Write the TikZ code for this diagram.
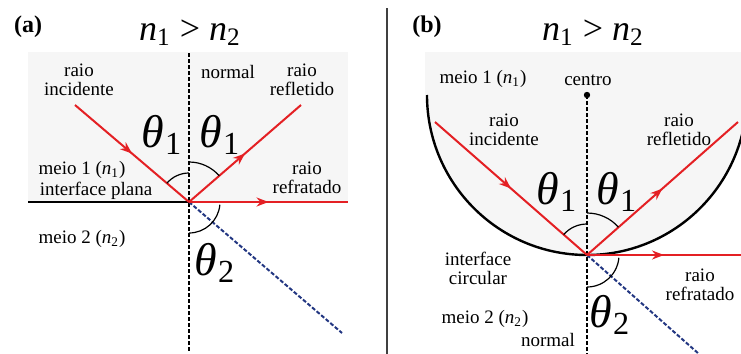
\documentclass[tikz,border=0pt]{standalone}
\usepackage{fontspec}
\setmainfont{Liberation Serif}
\newfontfamily\figfont{Liberation Serif}
\usetikzlibrary{arrows.meta, decorations.markings, positioning}
\definecolor{rayred}{RGB}{228,32,36}
\definecolor{rayblue}{RGB}{35,55,130}
\definecolor{bggray}{RGB}{246,246,246}
\newcommand{\nsub}[1]{{\itshape n}\textsubscript{#1}}
\newcommand{\thsub}[1]{{\itshape θ}\kern0.02em\textsubscript{#1}}

\begin{document}
\begin{tikzpicture}[x=0.5pt, y=-0.5pt,
  lbl/.style={align=center, inner sep=0pt, font=\figfont\fontsize{9.5}{9.5}\selectfont},
  ang/.style={inner sep=0pt, font=\figfont\fontsize{23}{23}\selectfont},
  ttl/.style={inner sep=0pt, font=\figfont\fontsize{18}{18}\selectfont},
  tag/.style={inner sep=0pt, font=\figfont\fontsize{12}{12}\selectfont\bfseries},
  ray/.style={draw=rayred, line width=1pt, postaction={decorate},
    decoration={markings, mark=at position 0.5 with {\arrow{Stealth[length=6pt,width=4.5pt]}}}},
  normalline/.style={draw=black, line width=1pt, dash pattern=on 2pt off 1pt},
  refrline/.style={draw=rayblue, line width=1pt, dash pattern=on 2pt off 1pt},
  anglearc/.style={draw=black, line width=0.6pt}
]
\clip (0,0) rectangle (741,354);

% --- Panel (a): interface plana ---
\fill[bggray] (28,52) rectangle (348,202);
\coordinate (oA) at (189,202);
\coordinate (leftA) at (28,202);
\coordinate (rightA) at (348,202);
\coordinate (topA) at (189,53);
\coordinate (botA) at (189,352);
\coordinate (incA) at (75,105);
\coordinate (reflA) at (301,105);
\coordinate (blueA) at (342,333);

\draw[line width=1.2pt] (leftA) -- (oA);
\draw[normalline] (topA) -- (botA);
\draw[refrline] (oA) -- (blueA);
\draw[ray] (incA) -- (oA);
\draw[ray] (oA) -- (reflA);
\draw[ray] (oA) -- (rightA);

% angles
\draw[anglearc] (oA) ++(90:14.5pt) arc[start angle=90, end angle=139.6, radius=14.5pt];
\draw[anglearc] (oA) ++(90:20pt) arc[start angle=90, end angle=40.9, radius=20pt];
\draw[anglearc] (oA) ++(-5:15.5pt) arc[start angle=-5, end angle=-90, radius=15.5pt];

% labels
\node[tag] (tagA) at (28,27) {(a)};
\node[ttl] (ttlA) at (190,33) {\nsub{1} > \nsub{2}};
\node[lbl] (incAtxt) at (79,80) {raio\\incidente};
\node[lbl] (normA) at (228,72) {normal};
\node[lbl] (reflAtxt) at (302,80) {raio\\refletido};
\node[ang] (th1lA) at (162,135) {\thsub{1}};
\node[ang] (th1rA) at (220,135) {\thsub{1}};
\node[lbl] (meio1A) at (82,170) {meio 1 (\nsub{1})};
\node[lbl] (planaA) at (96,191) {interface plana};
\node[lbl] (refrAtxt) at (307,178) {raio\\refratado};
\node[lbl] (meio2A) at (82,239) {meio 2 (\nsub{2})};
\node[ang] (th2A) at (215,263) {\thsub{2}};

% --- separator ---
\coordinate (sepTop) at (387,8);
\coordinate (sepBot) at (387,354);
\draw[black!75, line width=0.75pt] (sepTop) -- (sepBot);

% --- Panel (b): interface circular ---
\coordinate (cB) at (587,95);
\coordinate (oB) at (587,255);
\coordinate (botB) at (587,354);
\coordinate (incB) at (435,122);
\coordinate (reflB) at (738,122);
\coordinate (rightB) at (741,255);
\coordinate (blueB) at (699,354);

\fill[bggray] (425,52) rectangle (741,95);
\fill[bggray] (cB) ++(180:80pt) arc[start angle=180, end angle=360, radius=80pt] -- cycle;
\draw[line width=1.2pt] (cB) ++(180:80pt) arc[start angle=180, end angle=360, radius=80pt];
\draw[normalline] (cB) -- (botB);
\fill (cB) circle[radius=1.6pt];
\draw[refrline] (oB) -- (blueB);
\draw[ray] (incB) -- (oB);
\draw[ray] (oB) -- (reflB);
\draw[ray] (oB) -- (rightB);

% angles
\draw[anglearc] (oB) ++(90:15.5pt) arc[start angle=90, end angle=138.8, radius=15.5pt];
\draw[anglearc] (oB) ++(90:21pt) arc[start angle=90, end angle=41.4, radius=21pt];
\draw[anglearc] (oB) ++(-5:16pt) arc[start angle=-5, end angle=-90, radius=16pt];

% labels
\node[tag] (tagB) at (427,27) {(b)};
\node[ttl] (ttlB) at (593,33) {\nsub{1} > \nsub{2}};
\node[lbl] (meio1B) at (483,79) {meio 1 (\nsub{1})};
\node[lbl] (centroB) at (588,80) {centro};
\node[lbl] (incBtxt) at (504,130) {raio\\incidente};
\node[lbl] (reflBtxt) at (679,130) {raio\\refletido};
\node[ang] (th1lB) at (557,192) {\thsub{1}};
\node[ang] (th1rB) at (617,192) {\thsub{1}};
\node[lbl] (circB) at (478,268) {interface\\circular};
\node[lbl] (refrBtxt) at (700,285) {raio\\refratado};
\node[lbl] (meio2B) at (485,319) {meio 2 (\nsub{2})};
\node[lbl] (normB) at (548,340) {normal};
\node[ang] (th2B) at (610,315) {\thsub{2}};

\end{tikzpicture}
\end{document}
